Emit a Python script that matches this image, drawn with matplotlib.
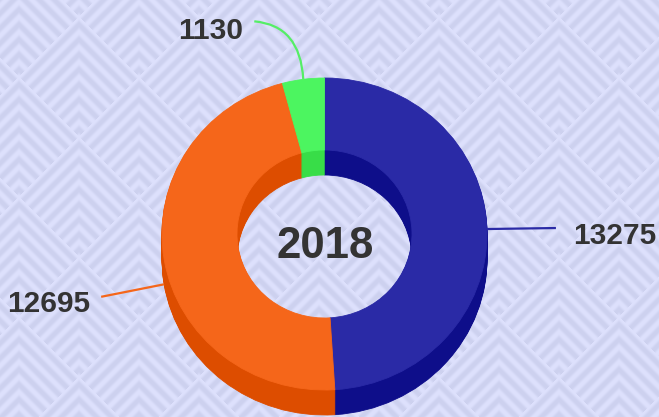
import numpy as np
import matplotlib
matplotlib.use('Agg')
import matplotlib.pyplot as plt
from matplotlib.path import Path
from matplotlib.patches import PathPatch

# ---- data ----
values = [13275, 12695, 1130]
labels = [str(v) for v in values]
top_colors = ['#2A2AA6', '#F5661A', '#4CF560']
side_colors = ['#0E0E8A', '#DD4D00', '#38DD48']
line_colors = ['#2A2AA6', '#F5661A', '#55EE66']
center_label = '2018'

# ---- layout (pixels) ----
W, H = 659, 417
K = 0.96            # vertical squash of the tilted donut
CX, CY = 324.5, 234.0
R_OUT, R_IN = 162.5, 87.5
DEPTH = 25
TEXT_COLOR = '#333333'
FONT = ['Liberation Sans', 'DejaVu Sans']

fig = plt.figure(figsize=(W / 100, H / 100), dpi=100)

# ---- patterned background ----
bg = fig.add_axes([0, 0, 1, 1])
yy, xx = np.mgrid[0:H, 0:W] + 0.5
a = xx - 79.0
b = yy - 17.0
p = np.mod((a + b) / 2.0, 60.0)
q = np.mod((b - a) / 2.0, 60.0)
f = np.minimum(p, q)
t = np.clip(0.5 - 0.65 * np.cos(2 * np.pi * f / 7.5), 0, 1)
light = np.array([221, 224, 252]) / 255.0
dark = np.array([205, 209, 239]) / 255.0
img = light * (1 - t[..., None]) + dark * t[..., None]
bg.imshow(img, extent=[0, W, H, 0], interpolation='bilinear', aspect='auto')
bg.set_xlim(0, W)
bg.set_ylim(H, 0)
bg.axis('off')

# ---- donut ----
ax = fig.add_axes([0, 0, 1, 1])
ax.set_facecolor('none')
ax.axis('off')


def to_data(px, py):
    return px, (H - py) / K


cx, cy = to_data(CX, CY)


def draw_ring(colors, center):
    wedges, _ = ax.pie(values, colors=colors, radius=R_OUT, center=center,
                       startangle=90, counterclock=False, frame=True,
                       wedgeprops=dict(width=R_OUT - R_IN, linewidth=0.6))
    for w in wedges:
        w.set_edgecolor(w.get_facecolor())
    return wedges


for d in range(DEPTH, 0, -1):
    draw_ring(side_colors, (cx, cy - d / K))
draw_ring(top_colors, (cx, cy))

ax.set_xlim(0, W)
ax.set_ylim(0, H / K)
ax.set_aspect('auto')

# ---- leader lines and labels ----
total = float(sum(values))
cum = np.cumsum([0] + values) / total * 360.0
mids = (cum[:-1] + cum[1:]) / 2.0

for i, (m, lab) in enumerate(zip(mids, labels)):
    th = np.deg2rad(m)
    sx = CX + R_OUT * np.sin(th)
    sy = CY - R_OUT * K * np.cos(th)
    if np.cos(th) < 0:
        sy += DEPTH
    if np.sin(th) > 0.9:  # right side: horizontal leader
        ex, ey = sx + 69, sy - 1
        ax.plot(*zip(to_data(sx, sy), to_data(ex, ey)), color=line_colors[i], lw=1.6,
                solid_capstyle='butt')
        tx, ty, ha = ex + 17, ey + 15.5, 'left'
    elif np.cos(th) < 0:  # lower left
        ex, ey = sx - 63, sy + 12.5
        ax.plot(*zip(to_data(sx, sy), to_data(ex, ey)), color=line_colors[i], lw=1.6,
                solid_capstyle='butt')
        tx, ty, ha = ex - 11, ey + 15, 'right'
    else:  # top: curved leader
        ex, ey = sx - 49, sy - 58
        cxp, cyp = sx - 3, ey + 4
        verts = [to_data(sx, sy), to_data(cxp, cyp), to_data(ex, ey)]
        path = Path(verts, [Path.MOVETO, Path.CURVE3, Path.CURVE3])
        ax.add_patch(PathPatch(path, fill=False, edgecolor=line_colors[i], lw=1.6))
        tx, ty, ha = ex - 11, ey + 17.5, 'right'
    ax.text(*to_data(tx, ty), lab, ha=ha, va='baseline', fontsize=21.5,
            fontweight='bold', color=TEXT_COLOR, family=FONT)

ax.text(*to_data(CX + 1, 258.3), center_label, ha='center', va='baseline',
        fontsize=31.5, fontweight='bold', color=TEXT_COLOR, family=FONT)

fig.savefig('out.png', dpi=100)
